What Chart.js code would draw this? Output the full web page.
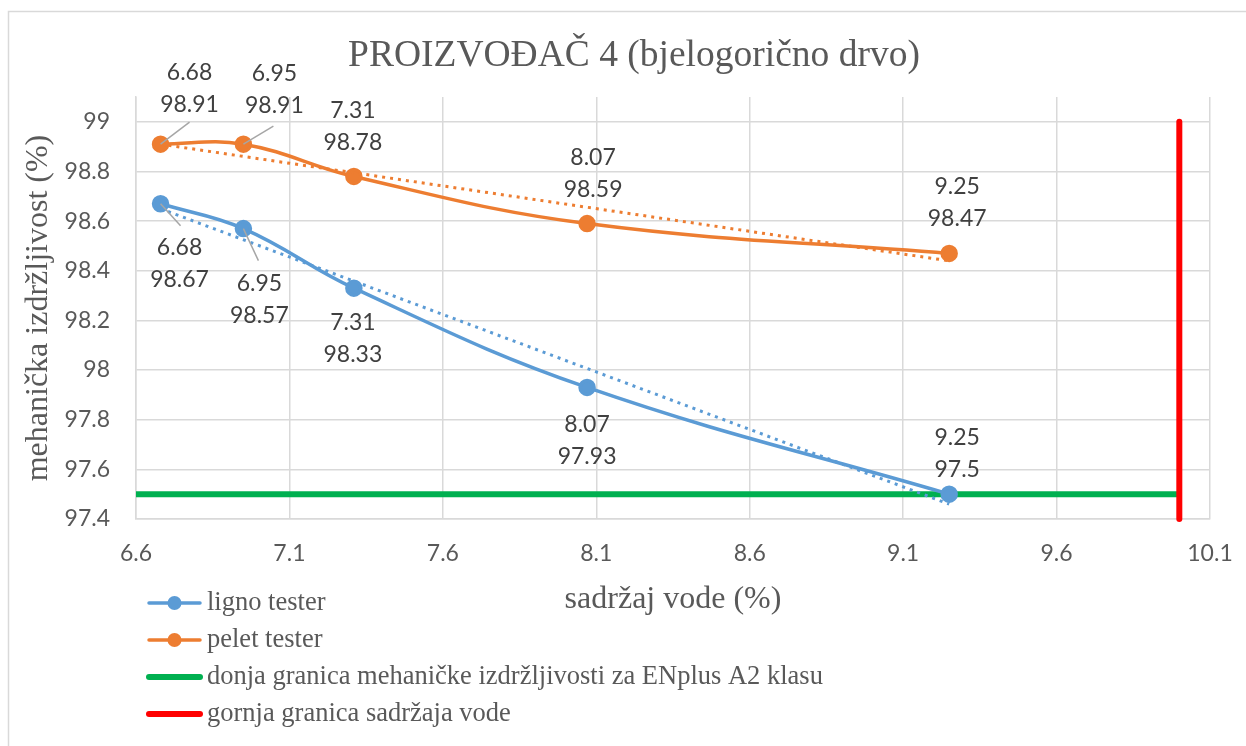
<!DOCTYPE html>
<html>
<head>
<meta charset="utf-8">
<script src="https://cdn.jsdelivr.net/npm/chart.js@4"></script>
<style>
  html, body { margin: 0; padding: 0; background: #fff; }
  #wrap { width: 1246px; height: 746px; }
</style>
</head>
<body>
<div id="wrap"><canvas id="chart" width="1246" height="746"></canvas></div>
<script>
// measured values
const waterLigno = [6.68, 6.95, 7.31, 8.07, 9.25];
const durabilityLigno = [98.67, 98.57, 98.33, 97.93, 97.5];
const waterPelet = [6.68, 6.95, 7.31, 8.07, 9.25];
const durabilityPelet = [98.91, 98.91, 98.78, 98.59, 98.47];

// linear trendlines (at first and last x)
const trendX = [6.68, 9.25];
const trendLigno = [98.65, 97.46];
const trendPelet = [98.91, 98.44];

// limits
const minDurability = 97.5;
const minDurabilityX = [6.6, 10.0];
const maxWater = 10.0;
const maxWaterY = [97.4, 99.0];

const xTicks = [6.6, 7.1, 7.6, 8.1, 8.6, 9.1, 9.6, 10.1];
const yTicks = [97.4, 97.6, 97.8, 98.0, 98.2, 98.4, 98.6, 98.8, 99.0];

const legendLabels = [
  "ligno tester",
  "pelet tester",
  "donja granica mehaničke izdržljivosti za ENplus A2 klasu",
  "gornja granica sadržaja vode"
];

// label placement: centre of the two-line label relative to the point, optional leader end
const labelPosLigno = [
  { dx: 19, dy: 60, lx: 20, ly: 22 },
  { dx: 16, dy: 71, lx: 15, ly: 32 },
  { dx: -1, dy: 50 },
  { dx: 0, dy: 53 },
  { dx: 8, dy: -41 }
];
const labelPosPelet = [
  { dx: 29, dy: -56, lx: 29, ly: -22 },
  { dx: 31, dy: -55, lx: 30, ly: -18 },
  { dx: -1, dy: -50 },
  { dx: 6, dy: -50 },
  { dx: 8, dy: -51 }
];

const BLUE = "#5B9BD5";
const ORANGE = "#ED7D31";
const GREEN = "#00B050";
const RED = "#FF0000";
const TEXT = "#595959";
const GRID = "#d9d9d9";
const SANS = "Lato, 'Open Sans', sans-serif";
const SERIF = "'Liberation Serif', 'DejaVu Serif', serif";

function pairs(xs, ys) {
  return xs.map((x, i) => ({ x: x, y: ys[i] }));
}

const labelsPlugin = {
  id: "excelBits",
  afterDatasetsDraw(chart) {
    const ctx = chart.ctx;
    ctx.save();
    ctx.font = "23px " + SANS;
    ctx.fillStyle = "#404040";
    ctx.textAlign = "center";
    ctx.textBaseline = "middle";
    [[0, labelPosLigno, waterLigno, durabilityLigno], [1, labelPosPelet, waterPelet, durabilityPelet]].forEach(set => {
      const meta = chart.getDatasetMeta(set[0]);
      meta.data.forEach((pt, i) => {
        const pos = set[1][i];
        if (pos.lx !== undefined) {
          ctx.strokeStyle = "#a6a6a6";
          ctx.lineWidth = 1.5;
          ctx.beginPath();
          ctx.moveTo(pt.x, pt.y);
          ctx.lineTo(pt.x + pos.lx, pt.y + pos.ly);
          ctx.stroke();
        }
        const cx = pt.x + pos.dx;
        const cy = pt.y + pos.dy;
        ctx.fillText(String(set[2][i]), cx, cy - 16);
        ctx.fillText(String(set[3][i]), cx, cy + 16);
      });
    });
    ctx.restore();
  },
  afterDraw(chart) {
    const ctx = chart.ctx;
    const area = chart.chartArea;
    ctx.save();
    // outer frame
    ctx.strokeStyle = GRID;
    ctx.lineWidth = 1.5;
    ctx.beginPath();
    ctx.moveTo(8.5, 746);
    ctx.lineTo(8.5, 11.5);
    ctx.lineTo(1246, 11.5);
    ctx.stroke();

    // axis titles
    ctx.fillStyle = TEXT;
    ctx.font = "32px " + SERIF;
    ctx.textAlign = "center";
    ctx.textBaseline = "middle";
    ctx.fillText("sadržaj vode (%)", (area.left + area.right) / 2, 600);
    ctx.save();
    ctx.translate(39, (area.top + area.bottom) / 2);
    ctx.rotate(-Math.PI / 2);
    ctx.fillText("mehanička izdržljivost (%)", 0, 0);
    ctx.restore();

    // legend
    const colors = [BLUE, ORANGE, GREEN, RED];
    ctx.font = "26.5px " + SERIF;
    ctx.textAlign = "left";
    legendLabels.forEach((txt, i) => {
      const y = 603 + i * 37;
      ctx.strokeStyle = colors[i];
      ctx.lineCap = "round";
      ctx.lineWidth = i < 2 ? 3.5 : 6;
      ctx.beginPath();
      ctx.moveTo(149, y);
      ctx.lineTo(200, y);
      ctx.stroke();
      if (i < 2) {
        ctx.fillStyle = colors[i];
        ctx.beginPath();
        ctx.arc(174.5, y, 7, 0, Math.PI * 2);
        ctx.fill();
      }
      ctx.fillStyle = TEXT;
      ctx.fillText(txt, 207, y);
    });
    ctx.restore();
  }
};

new Chart(document.getElementById("chart"), {
  type: "scatter",
  data: {
    datasets: [
      {
        label: legendLabels[0],
        data: pairs(waterLigno, durabilityLigno),
        showLine: true,
        tension: 0.4,
        borderColor: BLUE,
        backgroundColor: BLUE,
        borderWidth: 3.5,
        pointRadius: 7,
        pointHoverRadius: 7,
        order: 2
      },
      {
        label: legendLabels[1],
        data: pairs(waterPelet, durabilityPelet),
        showLine: true,
        tension: 0.4,
        borderColor: ORANGE,
        backgroundColor: ORANGE,
        borderWidth: 3.5,
        pointRadius: 7,
        pointHoverRadius: 7,
        order: 2
      },
      {
        label: legendLabels[2],
        data: pairs(minDurabilityX, [minDurability, minDurability]),
        showLine: true,
        borderColor: GREEN,
        borderWidth: 6,
        pointRadius: 0,
        order: 3
      },
      {
        label: legendLabels[3],
        data: pairs([maxWater, maxWater], maxWaterY),
        showLine: true,
        borderColor: RED,
        borderWidth: 6,
        borderCapStyle: "round",
        pointRadius: 0,
        clip: 10,
        order: 1
      },
      {
        label: "trend ligno",
        data: pairs(trendX, trendLigno),
        showLine: true,
        borderColor: BLUE,
        borderWidth: 3,
        borderDash: [3, 5],
        pointRadius: 0,
        order: 0
      },
      {
        label: "trend pelet",
        data: pairs(trendX, trendPelet),
        showLine: true,
        borderColor: ORANGE,
        borderWidth: 3,
        borderDash: [3, 5],
        pointRadius: 0,
        order: 0
      }
    ]
  },
  options: {
    responsive: false,
    animation: false,
    events: [],
    layout: { padding: { left: 58, right: 36, top: 0, bottom: 0 } },
    plugins: {
      legend: { display: false },
      tooltip: { enabled: false },
      title: {
        display: true,
        text: "PROIZVOĐAČ 4 (bjelogorično drvo)",
        color: TEXT,
        font: { family: SERIF, size: 37.5, weight: "normal", lineHeight: 1.2 },
        padding: { top: 34, bottom: 18 }
      }
    },
    scales: {
      x: {
        type: "linear",
        min: 6.6,
        max: 10.1,
        afterBuildTicks: s => { s.ticks = xTicks.map(v => ({ value: v })); },
        afterFit: s => { s.height = 227; s.paddingLeft = 0; s.paddingRight = 0; },
        grid: { color: GRID, lineWidth: 1.5, drawTicks: false },
        border: { color: GRID, width: 1.5 },
        ticks: {
          color: TEXT,
          padding: 21,
          maxRotation: 0,
          font: { family: SANS, size: 23 },
          callback: v => v.toFixed(1)
        }
      },
      y: {
        type: "linear",
        min: 97.4,
        max: 99.1,
        afterBuildTicks: s => { s.ticks = yTicks.map(v => ({ value: v })); },
        afterFit: s => { s.width = 78; },
        grid: { color: GRID, lineWidth: 1.5, drawTicks: false },
        border: { color: GRID, width: 1.5 },
        ticks: {
          color: TEXT,
          padding: 26,
          font: { family: SANS, size: 23 },
          callback: v => String(Number(v.toFixed(1)))
        }
      }
    }
  },
  plugins: [labelsPlugin]
});
</script>
</body>
</html>
